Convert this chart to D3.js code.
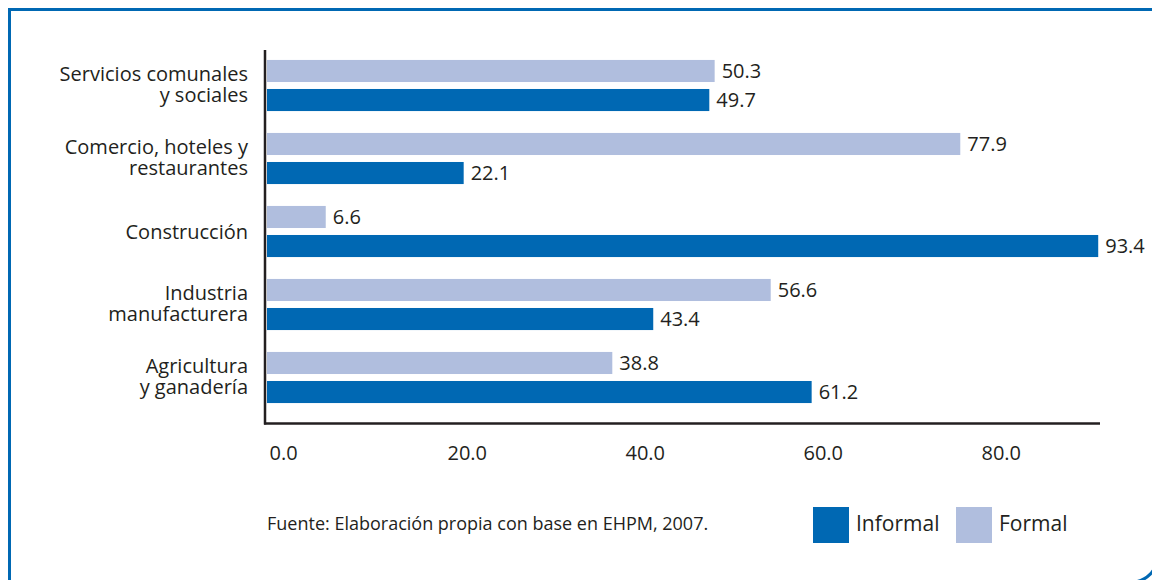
<!DOCTYPE html>
<meta charset="utf-8">
<html>
<script src="https://d3js.org/d3.v7.min.js"></script>
<style>
  body { margin: 0; background: #fff; }
  text { font-family: "Open Sans", "Noto Sans", sans-serif; fill: #231F20; }
</style>
<body>
<div id="chart"></div>
<script>

    // data
    const categories = ["Servicios comunales y sociales", "Comercio, hoteles y restaurantes",
                        "Construcción", "Industria manufacturera", "Agricultura y ganadería"];
    const categoryLines = [["Servicios comunales", "y sociales"],
                           ["Comercio, hoteles y", "restaurantes"],
                           ["Construcción"],
                           ["Industria", "manufacturera"],
                           ["Agricultura", "y ganadería"]];
    const formal   = [50.3, 77.9, 6.6, 56.6, 38.8];
    const informal = [49.7, 22.1, 93.4, 43.4, 61.2];
    const series = ["Formal", "Informal"];
    const tickValues = [0, 20, 40, 60, 80];
    const source = "Fuente: Elaboración propia con base en EHPM, 2007.";

    const width = 1152, height = 580;
    const colors = {Informal: "#0068B3", Formal: "#B0BEDE"};

    const svg = d3.select("#chart")
      .append("svg")
        .attr("width", width)
        .attr("height", height);

    // blue frame, rounded at the lower right corner
    svg.append("path")
      .attr("d", "M9.5,600 V9.5 H1200 M1157,540 V557 A25,25 0 0 1 1132,582 H1100")
      .attr("fill", "none")
      .attr("stroke", "#0068B3")
      .attr("stroke-width", 3);

    const x = d3.scaleLinear()
      .domain([0, 93.6])
      .range([267, 1100]);

    const y = d3.scaleBand()
      .domain(categories)
      .range([49, 414])
      .paddingInner(0.3)
      .paddingOuter(0.15);

    const ySub = d3.scaleBand()
      .domain(series)
      .range([0, y.bandwidth()])
      .paddingInner(0.24);

    // rows
    const rows = categories.map((c, i) => ({cat: c, lines: categoryLines[i], Formal: formal[i], Informal: informal[i]}));

    const group = svg.selectAll("g.cat")
      .data(rows)
      .join("g")
        .attr("class", "cat")
        .attr("transform", d => `translate(0, ${y(d.cat)})`);

    group.selectAll("rect")
      .data(d => series.map(s => ({s: s, v: d[s]})))
      .join("rect")
        .attr("x", x(0))
        .attr("y", d => ySub(d.s))
        .attr("width", d => x(d.v) - x(0))
        .attr("height", ySub.bandwidth())
        .attr("fill", d => colors[d.s]);

    group.selectAll("text.val")
      .data(d => series.map(s => ({s: s, v: d[s]})))
      .join("text")
        .attr("class", "val")
        .attr("x", d => x(d.v) + 7)
        .attr("y", d => ySub(d.s) + ySub.bandwidth() / 2)
        .attr("dy", "0.36em")
        .style("font-size", "20px")
        .text(d => d3.format(".1f")(d.v));

    // category labels
    group.append("text")
      .attr("text-anchor", "end")
      .style("font-size", "20px")
      .attr("x", 248)
      .selectAll("tspan")
      .data(d => d.lines.map((t, j) => ({t: t, j: j, n: d.lines.length})))
      .join("tspan")
        .attr("x", 248)
        .attr("y", d => d.n === 1 ? y.bandwidth() / 2 + 8 : y.bandwidth() / 2 - 4 + d.j * 21)
        .text(d => d.t);

    // axes
    svg.append("line")
      .attr("x1", 265).attr("x2", 265)
      .attr("y1", 50).attr("y2", 424.5)
      .attr("stroke", "#231F20").attr("stroke-width", 2.5);

    const xAxis = svg.append("g")
      .attr("transform", "translate(0, 423.5)")
      .call(d3.axisBottom(x).tickValues(tickValues).tickFormat(d3.format(".1f")).tickSize(0).tickPadding(22));
    xAxis.select(".domain")
      .attr("d", `M264,0H${x.range()[1]}`)
      .attr("stroke", "#231F20").attr("stroke-width", 2.5);
    xAxis.selectAll("text")
      .attr("text-anchor", "start")
      .attr("dx", 2)
      .style("font-size", "20px")
      .style("font-family", "'Open Sans', sans-serif")
      .attr("fill", "#231F20");

    // source note
    svg.append("text")
      .attr("x", 267).attr("y", 530)
      .style("font-size", "18px")
      .text(source);

    // legend
    const legendX = [813, 956];
    const legend = svg.selectAll("g.leg")
      .data(["Informal", "Formal"])
      .join("g")
        .attr("class", "leg")
        .attr("transform", (d, i) => `translate(${legendX[i]}, 507)`);
    legend.append("rect")
      .attr("width", 36).attr("height", 36)
      .attr("fill", d => colors[d]);
    legend.append("text")
      .attr("x", 43).attr("y", 24)
      .style("font-size", "21px")
      .text(d => d);

</script>
</body>
</html>
